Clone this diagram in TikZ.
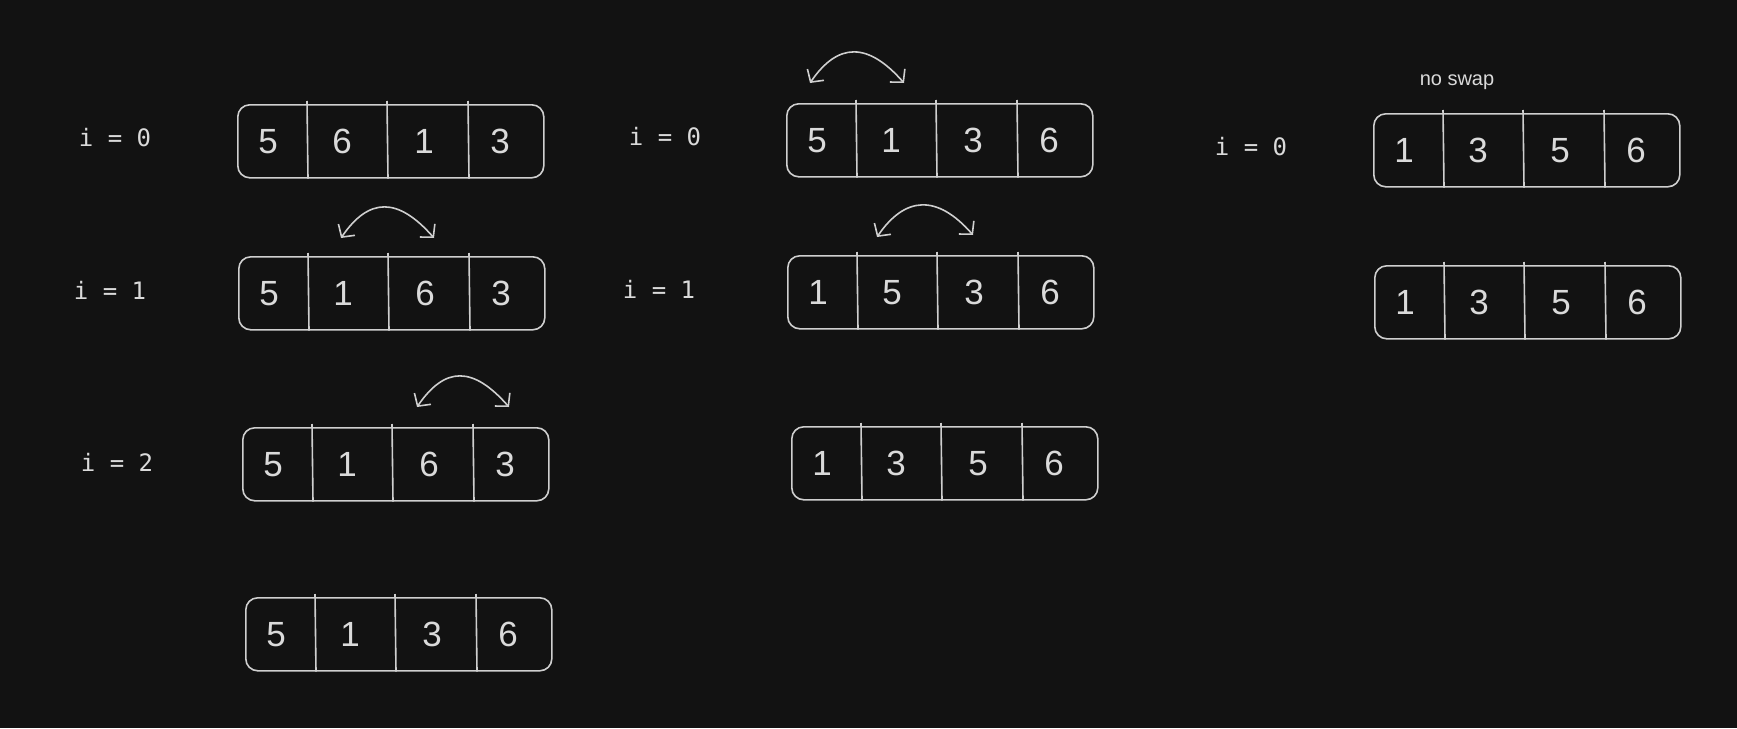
\documentclass[tikz,border=0pt]{standalone}
\usepackage{fontspec}
\setmainfont{Liberation Sans}
\newfontfamily\monofont{DejaVu Sans Mono}
\usetikzlibrary{arrows.meta,calc}
\definecolor{bg}{HTML}{121212}
\definecolor{ink}{HTML}{CFCFCF}
\definecolor{txt}{HTML}{DADADA}
\tikzset{
  arrbox/.style={draw=ink, line width=1.6pt, rounded corners=12pt, minimum width=306pt, minimum height=73pt, inner sep=0pt, anchor=north west},
  divider/.style={draw=ink, line width=1.6pt},
  digit/.style={text=txt, inner sep=0pt, font=\fontsize{35pt}{40pt}\selectfont},
  lbl/.style={text=txt, inner sep=0pt, font=\monofont\fontsize{24pt}{28pt}\selectfont},
  note/.style={text=txt, inner sep=0pt, font=\fontsize{20pt}{24pt}\selectfont},
  swaparrow/.style={draw=ink, line width=1.6pt, {Straight Barb[length=9pt,width=20pt]}-{Straight Barb[length=9pt,width=20pt]}}
}
\newcommand\arrrow[7]{%
  \node[arrbox] (#1) at (#2,#3) {};
  \draw[divider] ([xshift=70pt,yshift=3pt]#1.north west) -- ([xshift=71pt]#1.south west);
  \draw[divider] ([xshift=150pt,yshift=3pt]#1.north west) -- ([xshift=151pt]#1.south west);
  \draw[divider] ([xshift=231pt,yshift=3pt]#1.north west) -- ([xshift=232pt]#1.south west);
  \node[digit] (#1-1) at ([xshift=31pt]#1.west) {#4};
  \node[digit] (#1-2) at ([xshift=105pt]#1.west) {#5};
  \node[digit] (#1-3) at ([xshift=187pt]#1.west) {#6};
  \node[digit] (#1-4) at ([xshift=263pt]#1.west) {#7};
}
\newcommand\swapat[5]{% name, left x, left y, right x, right y
  \coordinate (#1l) at (#2,#3);
  \coordinate (#1r) at (#4,#5);
  \coordinate (#1c1) at ($(#1l)+(28,-41)$);
  \coordinate (#1c2) at ($(#1r)+(-36,-41)$);
  \draw[swaparrow] (#1l) .. controls (#1c1) and (#1c2) .. (#1r);
}
\begin{document}
\begin{tikzpicture}[x={(1pt,0pt)}, y={(0pt,-1pt)}]
\fill[bg] (0,0) rectangle (1737,728);
\useasboundingbox (0,0) rectangle (1737,728);

% column A
\node[lbl] (la0) at (115,138) {i = 0};
\node[lbl] (la1) at (110,290) {i = 1};
\node[lbl] (la2) at (117,462) {i = 2};
\arrrow{a1}{237}{104}{5}{6}{1}{3}
\arrrow{a2}{238}{256}{5}{1}{6}{3}
\arrrow{a3}{242}{427}{5}{1}{6}{3}
\arrrow{a4}{245}{597}{5}{1}{3}{6}
\swapat{sa}{341}{238}{434}{238}
\swapat{sb}{417}{407}{509}{407}

% column B
\node[lbl] (lb0) at (665,137) {i = 0};
\node[lbl] (lb1) at (659,289) {i = 1};
\arrrow{b1}{786}{103}{5}{1}{3}{6}
\arrrow{b2}{787}{255}{1}{5}{3}{6}
\arrrow{b3}{791}{426}{1}{3}{5}{6}
\swapat{sc}{810}{83}{904}{83}
\swapat{sd}{877}{237}{973}{235}

% column C
\node[note, anchor=base] (ns) at (1457,85) {no swap};
\node[lbl] (lc0) at (1251,147) {i = 0};
\arrrow{c1}{1373}{113}{1}{3}{5}{6}
\arrrow{c2}{1374}{265}{1}{3}{5}{6}
\end{tikzpicture}
\end{document}
